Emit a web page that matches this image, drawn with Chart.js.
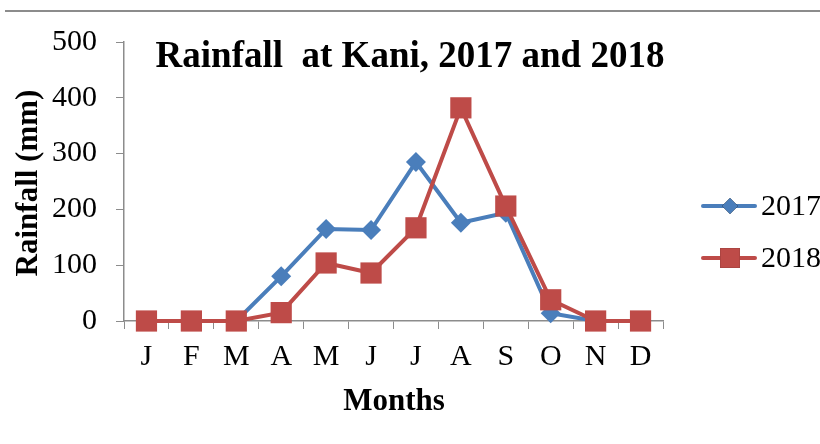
<!DOCTYPE html>
<html>
<head>
<meta charset="utf-8">
<script src="https://cdn.jsdelivr.net/npm/chart.js@4"></script>
<style>
  html, body { margin: 0; padding: 0; background: #fff; }
  #wrap { position: relative; width: 820px; height: 444px; }
  #topline { position: absolute; left: 5px; right: 0; top: 10px; height: 2px; background: #8c8c8c; }
</style>
</head>
<body>
<div id="wrap">
  <canvas id="chart" width="820" height="444"></canvas>
  <div id="topline"></div>
</div>
<script>
    // chart data
    const months = ['J', 'F', 'M', 'A', 'M', 'J', 'J', 'A', 'S', 'O', 'N', 'D'];
    const rain2017 = [0, 0, 0, 80, 165, 163, 285, 176, 194, 14, 0, 0];
    const rain2018 = [0, 0, 0, 15, 104, 86, 167, 382, 206, 38, 0, 0];
    const yTicks = [0, 100, 200, 300, 400, 500];

    const BLUE = '#4a7ebb';
    const RED = '#be4b48';
    const SERIF = '"Liberation Serif", "Times New Roman", serif';

    // titles and legend drawn by hand, the way Excel places them
    const decorations = {
        id: 'decorations',
        afterDraw(chart) {
            const c = chart.ctx;
            c.save();
            c.fillStyle = '#000';
            c.textBaseline = 'middle';

            // main title
            c.font = 'bold 37px ' + SERIF;
            c.textAlign = 'center';
            c.fillText('Rainfall  at Kani, 2017 and 2018', 410, 57);

            // axis titles
            c.font = 'bold 31px ' + SERIF;
            c.fillText('Months', 394, 402);
            c.save();
            c.translate(29, 183);
            c.rotate(-Math.PI / 2);
            c.fillText('Rainfall (mm)', 0, 0);
            c.restore();

            // legend
            c.font = '30px ' + SERIF;
            c.textAlign = 'left';
            const items = [
                { label: '2017', y: 206, r: 8, ds: chart.data.datasets[0] },
                { label: '2018', y: 258, r: 14, ds: chart.data.datasets[1] }
            ];
            items.forEach(item => {
                c.strokeStyle = item.ds.borderColor;
                c.lineWidth = 4;
                c.lineCap = 'round';
                c.beginPath();
                c.moveTo(703, item.y);
                c.lineTo(755, item.y);
                c.stroke();
                Chart.helpers.drawPoint(c, {
                    pointStyle: item.ds.pointStyle,
                    radius: item.r,
                    borderWidth: 0
                }, 730, item.y);
                c.fillStyle = item.ds.borderColor;
                c.fill();
                c.fillStyle = '#000';
                c.fillText(item.label, 761, item.y + 1);
            });
            c.restore();
        }
    };

    new Chart(document.getElementById('chart'), {
        type: 'line',
        data: {
            labels: months,
            datasets: [{
                label: '2017',
                data: rain2017,
                borderColor: BLUE,
                backgroundColor: BLUE,
                borderWidth: 4,
                pointStyle: 'rectRot',
                pointRadius: 10,
                pointBorderWidth: 0,
                clip: false,
                order: 2
            }, {
                label: '2018',
                data: rain2018,
                borderColor: RED,
                backgroundColor: RED,
                borderWidth: 4,
                pointStyle: 'rect',
                pointRadius: 15,
                pointBorderWidth: 0,
                clip: false,
                order: 1
            }]
        },
        options: {
            responsive: false,
            animation: false,
            layout: { padding: { left: 0, right: 157, top: 42, bottom: 0 } },
            plugins: {
                legend: { display: false },
                title: { display: false },
                tooltip: { enabled: false }
            },
            scales: {
                x: {
                    offset: true,
                    afterFit: scale => { scale.height = 123; },
                    grid: {
                        offset: true,
                        drawOnChartArea: false,
                        drawTicks: true,
                        tickLength: 8,
                        color: '#8c8c8c',
                        lineWidth: 1
                    },
                    border: { color: '#8c8c8c', width: 1.5 },
                    ticks: {
                        color: '#000',
                        padding: 10,
                        font: { family: SERIF, size: 30 },
                        maxRotation: 0,
                        autoSkip: false
                    }
                },
                y: {
                    min: 0,
                    max: 500,
                    afterFit: scale => { scale.width = 124; },
                    afterBuildTicks: scale => { scale.ticks = yTicks.map(v => ({ value: v })); },
                    grid: {
                        drawOnChartArea: false,
                        drawTicks: true,
                        tickLength: 8,
                        color: '#8c8c8c'
                    },
                    border: { color: '#8c8c8c', width: 1.5 },
                    ticks: {
                        color: '#000',
                        padding: 19,
                        font: { family: SERIF, size: 30 }
                    }
                }
            }
        },
        plugins: [decorations]
    });
</script>
</body>
</html>
